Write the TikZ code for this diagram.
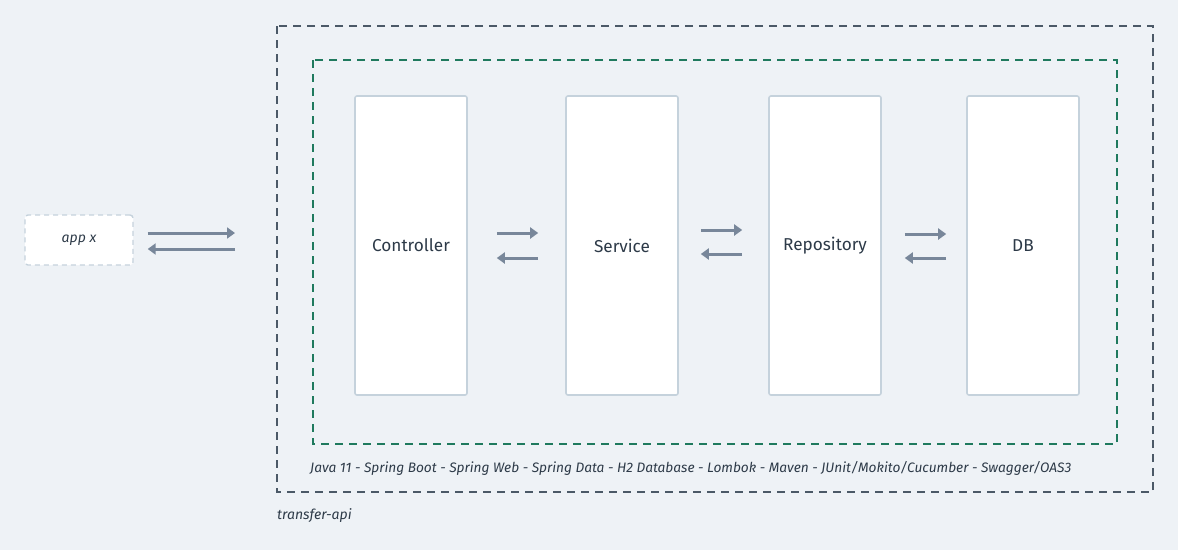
\documentclass[tikz,border=0pt]{standalone}
\usepackage{fontspec}
\setmainfont{Fira Sans}
\usetikzlibrary{arrows.meta}
\definecolor{bg}{HTML}{EEF2F6}
\definecolor{outer}{HTML}{4B5967}
\definecolor{inner}{HTML}{1F7A5E}
\definecolor{boxline}{HTML}{C5D2DC}
\definecolor{arrowc}{HTML}{78879A}
\definecolor{txt}{HTML}{2D3A48}
\tikzset{
  layer/.style={draw=boxline, line width=1.6pt, fill=white, rounded corners=2pt,
    minimum width=112pt, minimum height=299pt, inner sep=0pt,
    text=txt, font=\fontsize{17.2}{20}\selectfont},
  appbox/.style={draw=boxline, line width=1.4pt, dash pattern=on 5pt off 4pt, fill=white, rounded corners=3pt,
    minimum width=108pt, minimum height=50pt, inner sep=0pt,
    text=txt, font=\fontsize{14}{16}\selectfont\itshape},
  arr/.style={draw=arrowc, line width=3pt, -{Triangle[length=8pt,width=11pt]}},
  lbl/.style={text=txt, inner sep=0pt, anchor=west},
}
\begin{document}
\begin{tikzpicture}[x=1pt,y=-1pt]
\fill[bg] (0,0) rectangle (1178,550);
\useasboundingbox (0,0) rectangle (1178,550);
% frames
\draw[outer, line width=1.6pt, dash pattern=on 8pt off 6pt] (277,26) rectangle (1153,492);
\draw[inner, line width=1.6pt, dash pattern=on 8pt off 6pt] (313,60) rectangle (1117,444);
% layer boxes
\node[layer] (ctrl) at (411,245.5) {Controller};
\node[layer] (svc) at (622,245.5) {Service};
\node[layer] (repo) at (825,245.5) {Repository};
\node[layer] (db) at (1023,245.5) {DB};
\node[appbox] (app) at (79,240) {app x};
% arrows
\coordinate (gate) at (235,240);
\draw[arr, shorten <=14pt] (app.east |- 0,233) -- (gate |- 0,233);
\draw[arr, shorten >=14pt] (gate |- 0,249) -- (app.east |- 0,249);
\draw[arr, shorten <=29pt, shorten >=27pt] (ctrl.east |- 0,233) -- (svc.west |- 0,233);
\draw[arr, shorten <=27pt, shorten >=29pt] (svc.west |- 0,258) -- (ctrl.east |- 0,258);
\draw[arr, shorten <=22pt, shorten >=26pt] (svc.east |- 0,230) -- (repo.west |- 0,230);
\draw[arr, shorten <=26pt, shorten >=22pt] (repo.west |- 0,254) -- (svc.east |- 0,254);
\draw[arr, shorten <=23pt, shorten >=20pt] (repo.east |- 0,234) -- (db.west |- 0,234);
\draw[arr, shorten <=20pt, shorten >=23pt] (db.west |- 0,258) -- (repo.east |- 0,258);
% labels
\node[lbl, font=\fontsize{13.7}{16}\selectfont\itshape] (stack) at (310,468) {Java 11 - Spring Boot - Spring Web - Spring Data - H2 Database - Lombok - Maven - JUnit/Mokito/Cucumber - Swagger/OAS3};
\node[lbl, font=\fontsize{14}{16}\selectfont\itshape] (name) at (277,516) {transfer-api};
\end{tikzpicture}
\end{document}
